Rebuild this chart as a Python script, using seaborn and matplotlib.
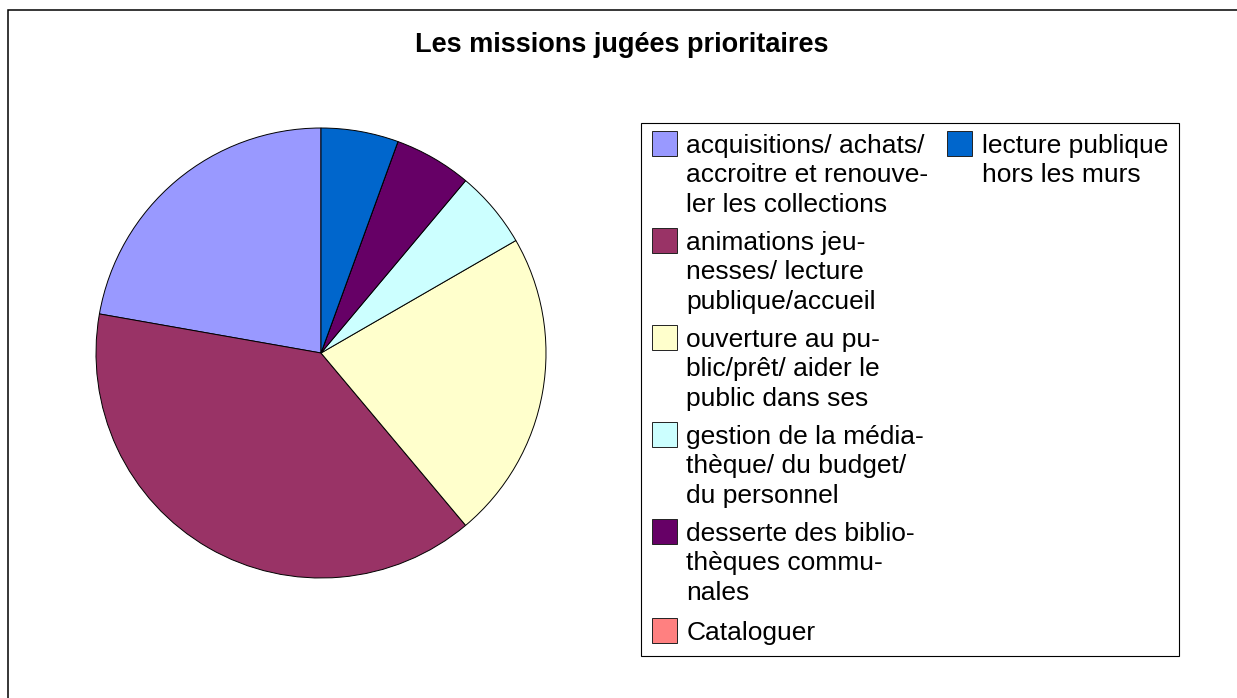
import numpy as np
import pandas as pd
import matplotlib
matplotlib.use("Agg")
import matplotlib.pyplot as plt
from matplotlib.patches import Rectangle
from matplotlib.font_manager import FontProperties
import seaborn as sns

# ---------------- data ----------------
categories = [
    "acquisitions/ achats/\naccroitre et renouve-\nler les collections",
    "animations jeu-\nnesses/ lecture\npublique/accueil",
    "ouverture au pu-\nblic/prêt/ aider le\npublic dans ses",
    "gestion de la média-\nthèque/ du budget/\ndu personnel",
    "desserte des biblio-\nthèques commu-\nnales",
    "Cataloguer",
    "lecture publique\nhors les murs",
]
values = [4, 7, 4, 1, 1, 0, 1]
colors = ["#9999ff", "#993366", "#ffffcc", "#ccffff", "#660066", "#ff8080", "#0066cc"]
title = "Les missions jugées prioritaires"

# ---------------- style ----------------
sns.set_theme(style="white")
plt.rcParams["font.family"] = ["Liberation Sans", "DejaVu Sans"]
plt.rcParams["text.color"] = "black"

W, H, DPI = 1237, 698, 100
fig = plt.figure(figsize=(W / DPI, H / DPI), dpi=DPI)
fig.patch.set_facecolor("white")

df = pd.DataFrame({"cat": categories, "val": values, "color": colors})

# ---------------- pie ----------------
cx, cy, r = 321, 353, 225
ax = fig.add_axes([(cx - r) / W, (H - cy - r) / H, 2 * r / W, 2 * r / H])
wedges, _ = ax.pie(df["val"], colors=df["color"], startangle=90, counterclock=True,
                   wedgeprops=dict(edgecolor="black", linewidth=0.7))
ax.set_xlim(-1, 1)
ax.set_ylim(-1, 1)
ax.set_aspect("equal")
ax.axis("off")

# ---------------- title ----------------
fig.text(622 / W, 1 - 52 / H, title, ha="center", va="baseline",
         fontsize=19.5, fontweight="bold", color="black")

# ---------------- outer border ----------------
fig.add_artist(Rectangle((8 / W, -0.2), 1.5, 1.2 - 10 / H, transform=fig.transFigure,
                         fill=False, edgecolor="black", linewidth=1.1))

# ---------------- legend ----------------
fs = 19
fs_px = fs * DPI / 72
renderer = fig.canvas.get_renderer()
fp = FontProperties(family=["Liberation Sans"], size=fs)
_, lp_h, lp_d = renderer.get_text_width_height_descent("lp", fp, ismath=False)
asc = lp_h - lp_d
line_pitch = 29.5
linesp = (line_pitch - lp_d) / asc
row_pitch = 97
labelsp = (row_pitch - (asc + 2 * line_pitch + lp_d)) / fs_px

# square handle of 18 pt
hh = (18 - 0.245 * fs) / (0.65 * fs)

dummy = [Rectangle((0, 0), 1, 1, facecolor="none", edgecolor="none") for _ in range(5)]
handles = list(wedges) + dummy
labels = list(df["cat"][:6]) + [df["cat"][6] + "\n"] + [""] * 5

leg = fig.legend(handles, labels, loc="upper left",
                 bbox_to_anchor=(641 / W, 1 - 123 / H), bbox_transform=fig.transFigure,
                 ncol=2, frameon=True, fancybox=False, shadow=False, framealpha=1,
                 fontsize=fs, borderpad=0.4, borderaxespad=0,
                 handlelength=18 / fs, handleheight=hh, handletextpad=0.37,
                 columnspacing=0.72, labelspacing=labelsp)
leg.get_frame().set_edgecolor("black")
leg.get_frame().set_linewidth(0.8)
leg.get_frame().set_facecolor("white")
for t in leg.get_texts():
    t.set_linespacing(linesp)
    t.set_color("black")

# move legend squares to the first text line
fig.canvas.draw()
renderer = fig.canvas.get_renderer()
for hnd, txt in zip(leg.legend_handles[:7], leg.get_texts()[:7]):
    hnd.set_edgecolor("#222222")
    hnd.set_linewidth(0.7)
    tb = txt.get_window_extent(renderer)
    hb = hnd.get_window_extent(renderer)
    dy = (tb.y1 + 3) - hb.y1
    hnd.set_y(hnd.get_y() + dy * 72 / DPI)

fig.savefig("out.png", dpi=DPI, facecolor="white")
